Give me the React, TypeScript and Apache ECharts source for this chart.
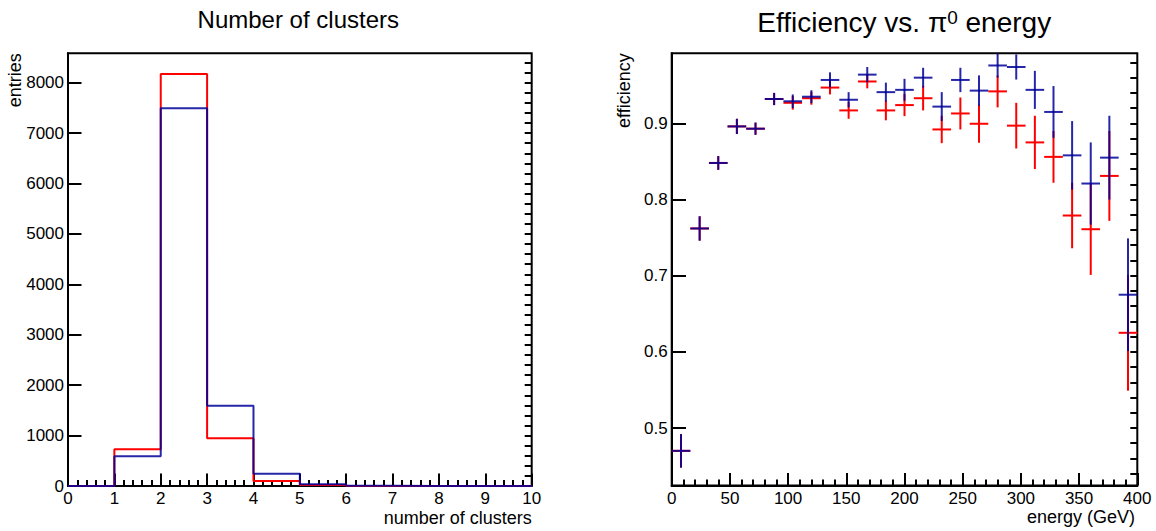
import React, { useEffect, useRef } from 'react';
import * as echarts from 'echarts';

// ---------- Left plot: number of clusters (histogram) ----------
const clusterBinEdges = [0, 1, 2, 3, 4, 5, 6, 7, 8, 9, 10];
const clustersRed = [0, 728, 8172, 946, 99, 20, 0, 0, 0, 0];
const clustersBlue = [0, 589, 7492, 1593, 244, 35, 4, 0, 0, 0];
const entriesMajorTicks = [0, 1000, 2000, 3000, 4000, 5000, 6000, 7000, 8000];
const entriesMax = 8583;

// ---------- Right plot: efficiency vs pi0 energy ----------
const energyCenters = [8, 24, 40, 56, 72, 88, 104, 120, 136, 152, 168, 184, 200, 216, 232, 248, 264, 280, 296, 312, 328, 344, 360, 376, 392];
const energyBinHalfWidth = 8;
const effRed = [0.470, 0.762, 0.848, 0.896, 0.893, 0.932, 0.927, 0.933, 0.947, 0.917, 0.955, 0.917, 0.924, 0.933, 0.892, 0.913, 0.8995, 0.942, 0.897, 0.875, 0.856, 0.779, 0.761, 0.831, 0.625];
const effRedErr = [0.022, 0.016, 0.009, 0.010, 0.008, 0.008, 0.009, 0.0085, 0.009, 0.011, 0.009, 0.013, 0.0145, 0.016, 0.018, 0.021, 0.025, 0.021, 0.030, 0.035, 0.034, 0.043, 0.060, 0.059, 0.076];
const effBlue = [0.470, 0.762, 0.848, 0.896, 0.893, 0.932, 0.929, 0.935, 0.957, 0.931, 0.964, 0.941, 0.944, 0.960, 0.922, 0.957, 0.943, 0.976, 0.974, 0.944, 0.915, 0.858, 0.821, 0.855, 0.675];
const effBlueErr = [0.022, 0.016, 0.009, 0.010, 0.008, 0.008, 0.009, 0.0085, 0.010, 0.010, 0.010, 0.0125, 0.0145, 0.013, 0.019, 0.016, 0.020, 0.016, 0.0165, 0.025, 0.034, 0.045, 0.054, 0.055, 0.074];
const effMajorTicks = [0.5, 0.6, 0.7, 0.8, 0.9];
const effMin = 0.4245;
const effMax = 0.992;

const FONT = '"Liberation Sans", Arial, Helvetica, sans-serif';
const RED = '#ff0000';
const BLUE = '#000099';
const BLUE_OPACITY = 0.85;

function minorTicks(min: number, max: number, step: number): number[] {
  const out: number[] = [];
  const start = Math.ceil(min / step - 1e-9);
  const end = Math.floor(max / step + 1e-9);
  for (let i = start; i <= end; i++) out.push(Math.round(i * step * 1e6) / 1e6);
  return out;
}

const labelStyle = { fontFamily: FONT, fontSize: 17, color: '#000', margin: 4 };

export default function App() {
  const ref = useRef<HTMLDivElement>(null);

  useEffect(() => {
    if (!ref.current) return;
    const chart = echarts.init(ref.current, undefined, { renderer: 'svg' });

    const histData = (vals: number[]) => {
      const d: number[][] = vals.map((v, i) => [clusterBinEdges[i], v]);
      d.push([clusterBinEdges[clusterBinEdges.length - 1], vals[vals.length - 1]]);
      return d;
    };

    const errSeries = (name: string, color: string, opacity: number, vals: number[], errs: number[]) => ({
      type: 'custom',
      name,
      xAxisIndex: 1,
      yAxisIndex: 2,
      silent: true,
      data: energyCenters.map((c, i) => [c, vals[i], errs[i]]),
      renderItem: (params: any, api: any) => {
        const x = api.value(0);
        const y = api.value(1);
        const e = api.value(2);
        const cs = params.coordSys;
        const p = api.coord([x, y]);
        const pl = api.coord([x - energyBinHalfWidth, y]);
        const pr = api.coord([x + energyBinHalfWidth, y]);
        const pt = api.coord([x, y + e]);
        const pb = api.coord([x, y - e]);
        const top = Math.max(pt[1], cs.y);
        const bot = Math.min(pb[1], cs.y + cs.height);
        const style = { stroke: color, lineWidth: 2, opacity };
        return {
          type: 'group',
          children: [
            { type: 'line', shape: { x1: pl[0], y1: p[1], x2: pr[0], y2: p[1] }, style },
            { type: 'line', shape: { x1: p[0], y1: top, x2: p[0], y2: bot }, style },
          ],
        };
      },
    });

    const axisLineStyle = { show: true, lineStyle: { color: '#000', width: 2 } };

    chart.setOption({
      animation: false,
      backgroundColor: '#fff',
      grid: [
        { left: 68, top: 53.3, width: 463.7, height: 432.7, show: true, borderColor: '#000', borderWidth: 2, backgroundColor: 'transparent' },
        { left: 671.7, top: 53.3, width: 465.6, height: 432.2, show: true, borderColor: '#000', borderWidth: 2, backgroundColor: 'transparent' },
      ],
      xAxis: [
        {
          type: 'value', gridIndex: 0, min: 0, max: 10, interval: 1,
          axisLine: axisLineStyle,
          axisTick: { inside: true, length: 12.5, lineStyle: { color: '#000', width: 2 } },
          minorTick: { show: true, splitNumber: 5, length: 6, lineStyle: { color: '#000', width: 2 } },
          splitLine: { show: false },
          axisLabel: { ...labelStyle, formatter: (v: number) => String(v) },
        },
        {
          type: 'value', gridIndex: 1, min: 0, max: 400, interval: 50,
          axisLine: axisLineStyle,
          axisTick: { inside: true, length: 12.5, lineStyle: { color: '#000', width: 2 } },
          minorTick: { show: true, splitNumber: 5, length: 6, lineStyle: { color: '#000', width: 2 } },
          splitLine: { show: false },
          axisLabel: { ...labelStyle, formatter: (v: number) => String(v) },
        },
      ],
      yAxis: [
        {
          type: 'value', gridIndex: 0, min: 0, max: entriesMax,
          axisLine: axisLineStyle,
          axisTick: { inside: true, length: 13.5, customValues: entriesMajorTicks, lineStyle: { color: '#000', width: 2 } },
          splitLine: { show: false },
          axisLabel: { ...labelStyle, customValues: entriesMajorTicks, formatter: (v: number) => String(v) },
        },
        {
          type: 'value', gridIndex: 0, min: 0, max: entriesMax,
          axisLine: { show: false },
          axisTick: { inside: true, length: 7, customValues: minorTicks(0, entriesMax, 200), lineStyle: { color: '#000', width: 2 } },
          splitLine: { show: false },
          axisLabel: { show: false },
        },
        {
          type: 'value', gridIndex: 1, min: effMin, max: effMax,
          axisLine: axisLineStyle,
          axisTick: { inside: true, length: 14.3, customValues: effMajorTicks, lineStyle: { color: '#000', width: 2 } },
          splitLine: { show: false },
          axisLabel: { ...labelStyle, customValues: effMajorTicks, formatter: (v: number) => v.toFixed(1) },
        },
        {
          type: 'value', gridIndex: 1, min: effMin, max: effMax,
          axisLine: { show: false },
          axisTick: { inside: true, length: 7, customValues: minorTicks(effMin, effMax, 0.02), lineStyle: { color: '#000', width: 2 } },
          splitLine: { show: false },
          axisLabel: { show: false },
        },
      ],
      series: [
        {
          type: 'line', name: 'clusters red', xAxisIndex: 0, yAxisIndex: 0, step: 'end', showSymbol: false, silent: true,
          data: histData(clustersRed), lineStyle: { color: RED, width: 2 },
        },
        {
          type: 'line', name: 'clusters blue', xAxisIndex: 0, yAxisIndex: 0, step: 'end', showSymbol: false, silent: true,
          data: histData(clustersBlue), lineStyle: { color: BLUE, width: 2, opacity: BLUE_OPACITY },
        },
        errSeries('efficiency red', RED, 1, effRed, effRedErr),
        errSeries('efficiency blue', BLUE, BLUE_OPACITY, effBlue, effBlueErr),
      ],
      graphic: [
        {
          type: 'text', x: 298.3, y: 19,
          style: { text: 'Number of clusters', fontFamily: FONT, fontSize: 24, fill: '#000', align: 'center', verticalAlign: 'middle' },
        },
        {
          type: 'text', x: 904.2, y: 22,
          style: {
            text: 'Efficiency vs. π{sup|0} energy', fontFamily: FONT, fontSize: 28, fill: '#000', align: 'center', verticalAlign: 'middle',
            rich: { sup: { fontFamily: FONT, fontSize: 19, fill: '#000', verticalAlign: 'top' } },
          },
        },
        {
          type: 'text', x: 531.7, y: 518.3,
          style: { text: 'number of clusters', fontFamily: FONT, fontSize: 18, fill: '#000', align: 'right', verticalAlign: 'middle' },
        },
        {
          type: 'text', x: 1135, y: 517.3,
          style: { text: 'energy (GeV)', fontFamily: FONT, fontSize: 18, fill: '#000', align: 'right', verticalAlign: 'middle' },
        },
        {
          type: 'text', x: 14.5, y: 53.3, rotation: Math.PI / 2,
          style: { text: 'entries', fontFamily: FONT, fontSize: 18, fill: '#000', align: 'right', verticalAlign: 'middle' },
        },
        {
          type: 'text', x: 624, y: 53.3, rotation: Math.PI / 2,
          style: { text: 'efficiency', fontFamily: FONT, fontSize: 18, fill: '#000', align: 'right', verticalAlign: 'middle' },
        },
      ],
    });

    return () => chart.dispose();
  }, []);

  return <div ref={ref} style={{ position: 'fixed', left: 0, top: 0, width: 1156, height: 531 }} />;
}
